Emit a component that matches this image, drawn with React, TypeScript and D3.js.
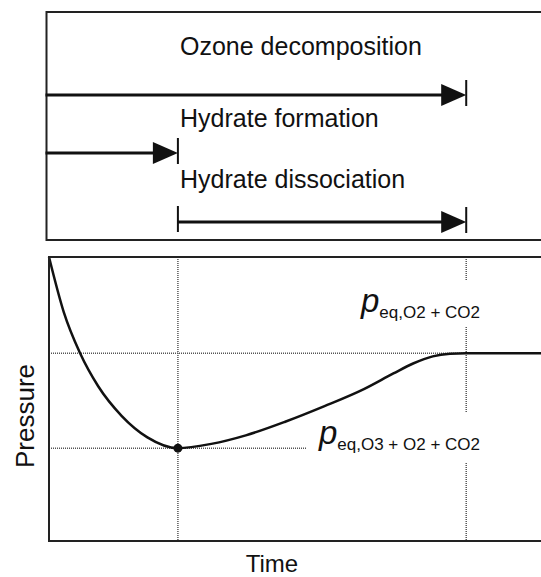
import React from 'react';
import * as d3 from 'd3';

// pressure curve (time in arbitrary units, pressure normalised)
const curveTime = [0, 3, 6.3, 10, 14.8, 20, 26.2, 33, 40, 48, 56, 64, 70, 74, 78, 81.5, 84.8, 100];
const curvePressure = [1.0, 0.806, 0.662, 0.545, 0.44, 0.365, 0.327, 0.342, 0.372, 0.42, 0.475, 0.535, 0.59, 0.625, 0.65, 0.659, 0.661, 0.661];

// phases shown in the top panel
const phaseNames = ['Ozone decomposition', 'Hydrate formation', 'Hydrate dissociation'];
const phaseStart = [0, 0, 26.2];
const phaseEnd = [84.8, 26.2, 84.8];

// reference levels
const formationEnd = 26.2;
const equilibriumTime = 84.8;
const pEqHigh = 0.661;
const pEqLow = 0.327;
const eqLabelSubs = ['eq,O2 + CO2', 'eq,O3 + O2 + CO2'];

const W = 541;
const H = 577;
const font = 'Liberation Sans, Arial, sans-serif';
const ink = '#111';
const dotted = { stroke: '#555', strokeWidth: 1.5, strokeDasharray: '1 1' };

// top panel layout
const topBox = { left: 46.5, top: 12, bottom: 240 };
const rowTextY = [55, 127, 188];
const rowArrowY = [95, 153, 222];

// bottom panel layout
const plot = { left: 49, top: 257, bottom: 541 };

function Arrow(props: { x0: number; x1: number; y: number; startTick: boolean }) {
    const { x0, x1, y, startTick } = props;
    const headLen = 25;
    const headHalf = 11;
    return (
        <g>
            <line x1={x0} y1={y} x2={x1 - headLen + 2} y2={y} stroke={ink} strokeWidth={3.2} />
            <path d={`M${x1 - headLen},${y - headHalf}L${x1},${y}L${x1 - headLen},${y + headHalf}Z`} fill={ink} />
            <line x1={x1} y1={y - 15} x2={x1} y2={y + 11} stroke={ink} strokeWidth={2} />
            {startTick && <line x1={x0} y1={y - 16} x2={x0} y2={y + 10} stroke={ink} strokeWidth={2} />}
        </g>
    );
}

export default function App() {
    const x = d3.scaleLinear().domain([0, 100]).range([plot.left, W]);
    const y = d3.scaleLinear().domain([0, 1]).range([plot.bottom, plot.top]);

    const pts: [number, number][] = curveTime.map((t, i) => [t, curvePressure[i]]);
    const line = d3.line<[number, number]>()
        .x(d => x(d[0]))
        .y(d => y(d[1]))
        .curve(d3.curveMonotoneX);

    const xForm = x(formationEnd);
    const xEq = x(equilibriumTime);
    const yHigh = y(pEqHigh);
    const yLow = y(pEqLow);

    return (
        <svg width={W} height={H} style={{ position: 'absolute', left: 0, top: 0, background: '#fff' }} fontFamily={font}>
            <rect x={0} y={0} width={W} height={H} fill="#fff" />

            {/* top panel */}
            <rect x={topBox.left} y={topBox.top} width={W + 20 - topBox.left} height={topBox.bottom - topBox.top}
                fill="none" stroke="#222" strokeWidth={2} />
            {phaseNames.map((name, i) => (
                <g key={name}>
                    <text x={180} y={rowTextY[i]} fontSize={25} fill={ink}>{name}</text>
                    <Arrow
                        x0={phaseStart[i] === 0 ? topBox.left - 1 : x(phaseStart[i])}
                        x1={x(phaseEnd[i])}
                        y={rowArrowY[i]}
                        startTick={phaseStart[i] > 0}
                    />
                </g>
            ))}

            {/* bottom panel */}
            <line x1={xForm} y1={plot.top} x2={xForm} y2={plot.bottom} {...dotted} />
            <line x1={xEq} y1={plot.top} x2={xEq} y2={plot.bottom} {...dotted} />
            <line x1={plot.left} y1={yHigh} x2={W} y2={yHigh} {...dotted} />
            <line x1={plot.left} y1={yLow} x2={306} y2={yLow} {...dotted} />

            {/* white boxes behind the level labels */}
            <rect x={345} y={281} width={154} height={46} fill="#fff" />
            <rect x={307} y={413} width={192} height={49} fill="#fff" />

            <path d={line(pts) || ''} fill="none" stroke={ink} strokeWidth={2.5} />
            <circle cx={xForm} cy={yLow} r={4.5} fill={ink} />

            {eqLabelSubs.map((sub, i) => {
                const base = i === 0 ? yHigh - 41 : yLow - 4;
                return (
                    <text key={sub} x={480} y={base} textAnchor="end" fill={ink}>
                        <tspan fontSize={33} fontStyle="italic">p</tspan>
                        <tspan fontSize={17} dy={6}>{sub}</tspan>
                    </text>
                );
            })}

            <rect x={plot.left} y={plot.top} width={W + 20 - plot.left} height={plot.bottom - plot.top}
                fill="none" stroke="#222" strokeWidth={2} />

            <text x={272} y={572} textAnchor="middle" fontSize={24} fill={ink}>Time</text>
            <text transform={`translate(34,${(plot.top + plot.bottom) / 2 + 17}) rotate(-90)`} textAnchor="middle"
                fontSize={26} fill={ink}>Pressure</text>
        </svg>
    );
}
